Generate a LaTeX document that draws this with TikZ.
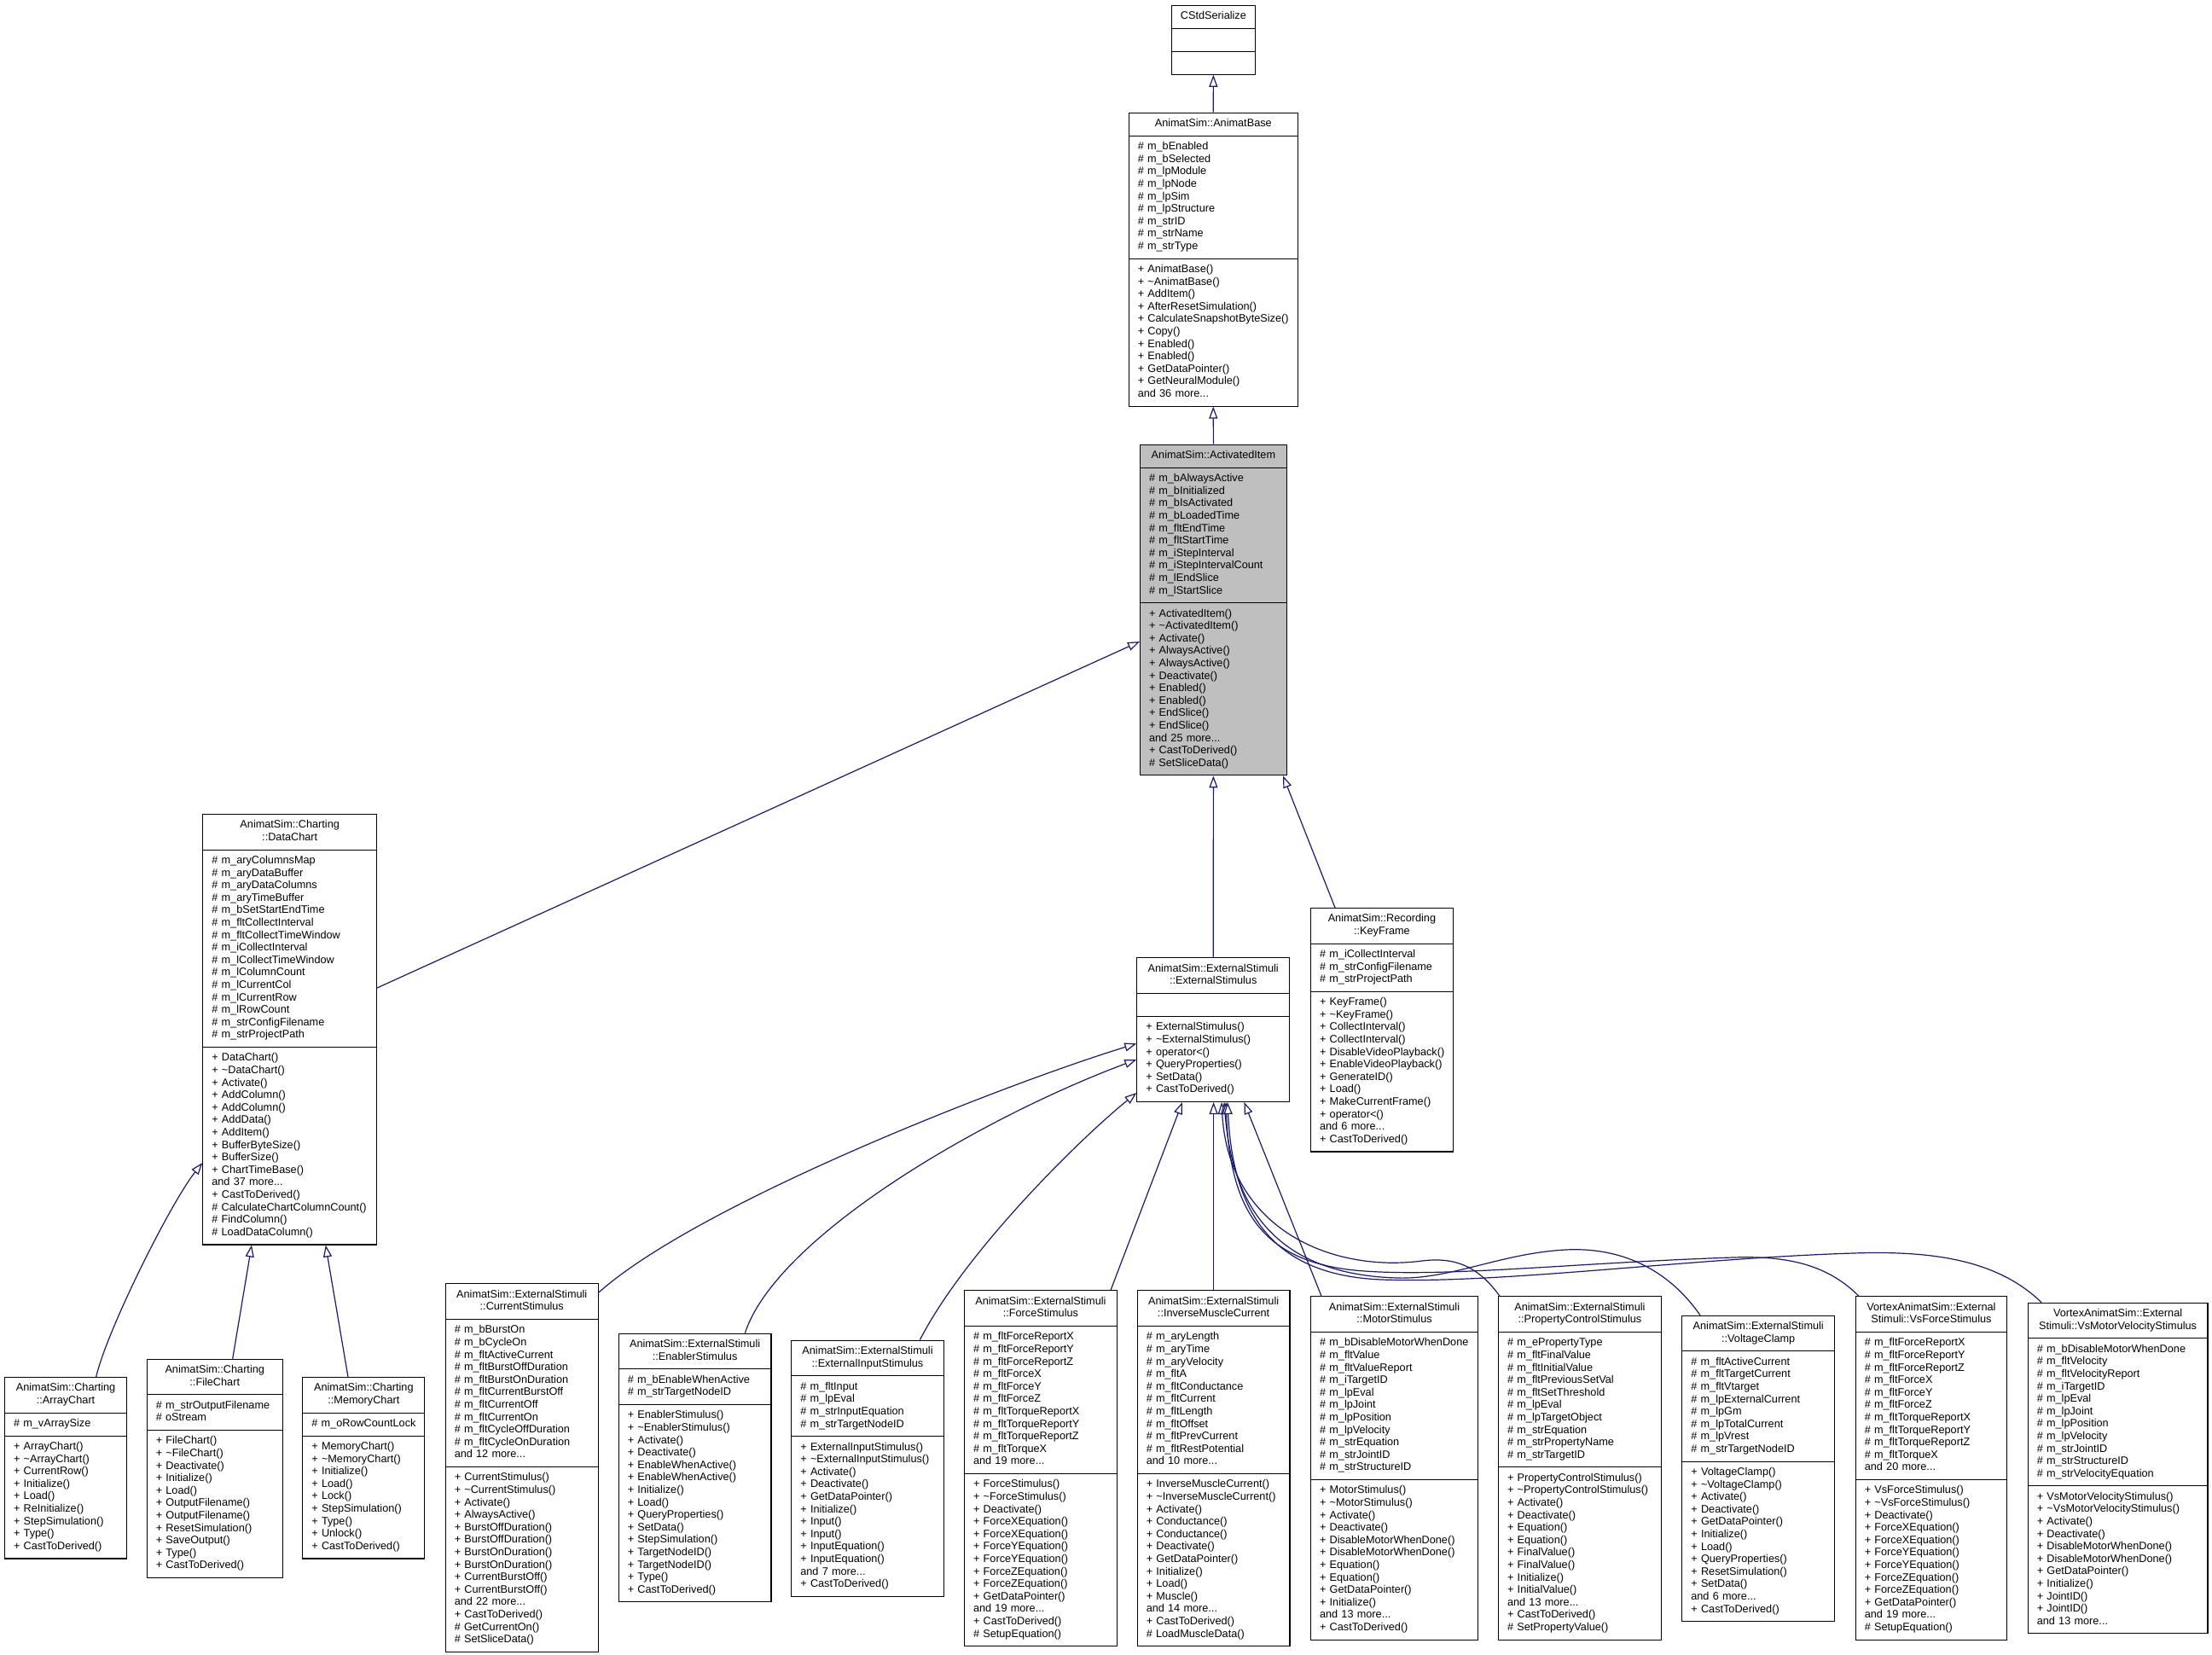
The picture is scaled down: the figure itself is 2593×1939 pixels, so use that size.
\documentclass[tikz,border=0pt]{standalone}
\usepackage{fontspec}
\setmainfont{Liberation Sans}
\usetikzlibrary{shapes.multipart,arrows.meta}
\definecolor{edgeblue}{HTML}{191970}
\definecolor{aigray}{HTML}{BFBFBF}
\setlength\parindent{0pt}
\hyphenpenalty=10000 \exhyphenpenalty=10000
\newcommand\tld{\textasciitilde}
\newcommand\ctitle[1]{\centering\strut #1\strut\par}
\tikzset{
  cls/.style={draw=black, line width=1.1pt, fill=white, rectangle split, rectangle split parts=3,
    anchor=north west, inner xsep=10.5pt, inner ysep=5.65pt, font=\fontsize{12.7}{14.6}\selectfont},
  inh/.style={draw=edgeblue, line width=1.2pt, -{Triangle[length=14pt,width=10pt,fill=white]}},
}
\begin{document}
\begin{tikzpicture}[x=1pt,y=-1pt]
\fill[white] (0,0) rectangle (2593,1939);
\useasboundingbox (0,0) rectangle (2593,1939);

\node[cls, text width=77.3pt] (cs) at (1372.7,5.7) {\ctitle{CStdSerialize}
\nodepart{two}\strut
\nodepart{three}\strut};

\node[cls, text width=177pt] (ab) at (1322.7,131.7) {\ctitle{AnimatSim::AnimatBase}
\nodepart{two}\strut\#~m\_bEnabled\\\#~m\_bSelected\\\#~m\_lpModule\\\#~m\_lpNode\\\#~m\_lpSim\\\#~m\_lpStructure\\\#~m\_strID\\\#~m\_strName\\\#~m\_strType\strut
\nodepart{three}\strut+~AnimatBase()\\+~\tld AnimatBase()\\+~AddItem()\\+~AfterResetSimulation()\\+~CalculateSnapshotByteSize()\\+~Copy()\\+~Enabled()\\+~Enabled()\\+~GetDataPointer()\\+~GetNeuralModule()\\and~36~more...\strut};

\node[cls, fill=aigray, text width=150.7pt] (ai) at (1336,520.7) {\ctitle{AnimatSim::ActivatedItem}
\nodepart{two}\strut\#~m\_bAlwaysActive\\\#~m\_bInitialized\\\#~m\_bIsActivated\\\#~m\_bLoadedTime\\\#~m\_fltEndTime\\\#~m\_fltStartTime\\\#~m\_iStepInterval\\\#~m\_iStepIntervalCount\\\#~m\_lEndSlice\\\#~m\_lStartSlice\strut
\nodepart{three}\strut+~ActivatedItem()\\+~\tld ActivatedItem()\\+~Activate()\\+~AlwaysActive()\\+~AlwaysActive()\\+~Deactivate()\\+~Enabled()\\+~Enabled()\\+~EndSlice()\\+~EndSlice()\\and~25~more...\\+~CastToDerived()\\\#~SetSliceData()\strut};

\node[cls, text width=182.7pt] (dc) at (237.3,954) {\ctitle{AnimatSim::Charting\\::DataChart}
\nodepart{two}\strut\#~m\_aryColumnsMap\\\#~m\_aryDataBuffer\\\#~m\_aryDataColumns\\\#~m\_aryTimeBuffer\\\#~m\_bSetStartEndTime\\\#~m\_fltCollectInterval\\\#~m\_fltCollectTimeWindow\\\#~m\_iCollectInterval\\\#~m\_lCollectTimeWindow\\\#~m\_lColumnCount\\\#~m\_lCurrentCol\\\#~m\_lCurrentRow\\\#~m\_lRowCount\\\#~m\_strConfigFilename\\\#~m\_strProjectPath\strut
\nodepart{three}\strut+~DataChart()\\+~\tld DataChart()\\+~Activate()\\+~AddColumn()\\+~AddColumn()\\+~AddData()\\+~AddItem()\\+~BufferByteSize()\\+~BufferSize()\\+~ChartTimeBase()\\and~37~more...\\+~CastToDerived()\\\#~CalculateChartColumnCount()\\\#~FindColumn()\\\#~LoadDataColumn()\strut};

\node[cls, text width=157.7pt] (es) at (1332.3,1122.3) {\ctitle{AnimatSim::ExternalStimuli\\::ExternalStimulus}
\nodepart{two}\strut
\nodepart{three}\strut+~ExternalStimulus()\\+~\tld ExternalStimulus()\\+~operator<()\\+~QueryProperties()\\+~SetData()\\+~CastToDerived()\strut};

\node[cls, text width=145.7pt] (kf) at (1536,1064) {\ctitle{AnimatSim::Recording\\::KeyFrame}
\nodepart{two}\strut\#~m\_iCollectInterval\\\#~m\_strConfigFilename\\\#~m\_strProjectPath\strut
\nodepart{three}\strut+~KeyFrame()\\+~\tld KeyFrame()\\+~CollectInterval()\\+~CollectInterval()\\+~DisableVideoPlayback()\\+~EnableVideoPlayback()\\+~GenerateID()\\+~Load()\\+~MakeCurrentFrame()\\+~operator<()\\and~6~more...\\+~CastToDerived()\strut};

\node[cls, text width=122pt] (ac) at (5,1614) {\ctitle{AnimatSim::Charting\\::ArrayChart}
\nodepart{two}\strut\#~m\_vArraySize\strut
\nodepart{three}\strut+~ArrayChart()\\+~\tld ArrayChart()\\+~CurrentRow()\\+~Initialize()\\+~Load()\\+~ReInitialize()\\+~StepSimulation()\\+~Type()\\+~CastToDerived()\strut};

\node[cls, text width=138pt] (fc) at (171.7,1592.7) {\ctitle{AnimatSim::Charting\\::FileChart}
\nodepart{two}\strut\#~m\_strOutputFilename\\\#~oStream\strut
\nodepart{three}\strut+~FileChart()\\+~\tld FileChart()\\+~Deactivate()\\+~Initialize()\\+~Load()\\+~OutputFilename()\\+~OutputFilename()\\+~ResetSimulation()\\+~SaveOutput()\\+~Type()\\+~CastToDerived()\strut};

\node[cls, text width=122pt] (mc) at (354.3,1614) {\ctitle{AnimatSim::Charting\\::MemoryChart}
\nodepart{two}\strut\#~m\_oRowCountLock\strut
\nodepart{three}\strut+~MemoryChart()\\+~\tld MemoryChart()\\+~Initialize()\\+~Load()\\+~Lock()\\+~StepSimulation()\\+~Type()\\+~Unlock()\\+~CastToDerived()\strut};

\node[cls, text width=158pt] (cur) at (521.7,1504.3) {\ctitle{AnimatSim::ExternalStimuli\\::CurrentStimulus}
\nodepart{two}\strut\#~m\_bBurstOn\\\#~m\_bCycleOn\\\#~m\_fltActiveCurrent\\\#~m\_fltBurstOffDuration\\\#~m\_fltBurstOnDuration\\\#~m\_fltCurrentBurstOff\\\#~m\_fltCurrentOff\\\#~m\_fltCurrentOn\\\#~m\_fltCycleOffDuration\\\#~m\_fltCycleOnDuration\\and~12~more...\strut
\nodepart{three}\strut+~CurrentStimulus()\\+~\tld CurrentStimulus()\\+~Activate()\\+~AlwaysActive()\\+~BurstOffDuration()\\+~BurstOffDuration()\\+~BurstOnDuration()\\+~BurstOnDuration()\\+~CurrentBurstOff()\\+~CurrentBurstOff()\\and~22~more...\\+~CastToDerived()\\\#~GetCurrentOn()\\\#~SetSliceData()\strut};

\node[cls, text width=157.7pt] (en) at (724.7,1562.7) {\ctitle{AnimatSim::ExternalStimuli\\::EnablerStimulus}
\nodepart{two}\strut\#~m\_bEnableWhenActive\\\#~m\_strTargetNodeID\strut
\nodepart{three}\strut+~EnablerStimulus()\\+~\tld EnablerStimulus()\\+~Activate()\\+~Deactivate()\\+~EnableWhenActive()\\+~EnableWhenActive()\\+~Initialize()\\+~Load()\\+~QueryProperties()\\+~SetData()\\+~StepSimulation()\\+~TargetNodeID()\\+~TargetNodeID()\\+~Type()\\+~CastToDerived()\strut};

\node[cls, text width=157.3pt] (ei) at (927.3,1570.7) {\ctitle{AnimatSim::ExternalStimuli\\::ExternalInputStimulus}
\nodepart{two}\strut\#~m\_fltInput\\\#~m\_lpEval\\\#~m\_strInputEquation\\\#~m\_strTargetNodeID\strut
\nodepart{three}\strut+~ExternalInputStimulus()\\+~\tld ExternalInputStimulus()\\+~Activate()\\+~Deactivate()\\+~GetDataPointer()\\+~Initialize()\\+~Input()\\+~Input()\\+~InputEquation()\\+~InputEquation()\\and~7~more...\\+~CastToDerived()\strut};

\node[cls, text width=157.7pt] (fs) at (1130,1512.3) {\ctitle{AnimatSim::ExternalStimuli\\::ForceStimulus}
\nodepart{two}\strut\#~m\_fltForceReportX\\\#~m\_fltForceReportY\\\#~m\_fltForceReportZ\\\#~m\_fltForceX\\\#~m\_fltForceY\\\#~m\_fltForceZ\\\#~m\_fltTorqueReportX\\\#~m\_fltTorqueReportY\\\#~m\_fltTorqueReportZ\\\#~m\_fltTorqueX\\and~19~more...\strut
\nodepart{three}\strut+~ForceStimulus()\\+~\tld ForceStimulus()\\+~Deactivate()\\+~ForceXEquation()\\+~ForceXEquation()\\+~ForceYEquation()\\+~ForceYEquation()\\+~ForceZEquation()\\+~ForceZEquation()\\+~GetDataPointer()\\and~19~more...\\+~CastToDerived()\\\#~SetupEquation()\strut};

\node[cls, text width=157.7pt] (im) at (1332.7,1512.3) {\ctitle{AnimatSim::ExternalStimuli\\::InverseMuscleCurrent}
\nodepart{two}\strut\#~m\_aryLength\\\#~m\_aryTime\\\#~m\_aryVelocity\\\#~m\_fltA\\\#~m\_fltConductance\\\#~m\_fltCurrent\\\#~m\_fltLength\\\#~m\_fltOffset\\\#~m\_fltPrevCurrent\\\#~m\_fltRestPotential\\and~10~more...\strut
\nodepart{three}\strut+~InverseMuscleCurrent()\\+~\tld InverseMuscleCurrent()\\+~Activate()\\+~Conductance()\\+~Conductance()\\+~Deactivate()\\+~GetDataPointer()\\+~Initialize()\\+~Load()\\+~Muscle()\\and~14~more...\\+~CastToDerived()\\\#~LoadMuscleData()\strut};

\node[cls, text width=175pt] (ms) at (1536,1519.3) {\ctitle{AnimatSim::ExternalStimuli\\::MotorStimulus}
\nodepart{two}\strut\#~m\_bDisableMotorWhenDone\\\#~m\_fltValue\\\#~m\_fltValueReport\\\#~m\_iTargetID\\\#~m\_lpEval\\\#~m\_lpJoint\\\#~m\_lpPosition\\\#~m\_lpVelocity\\\#~m\_strEquation\\\#~m\_strJointID\\\#~m\_strStructureID\strut
\nodepart{three}\strut+~MotorStimulus()\\+~\tld MotorStimulus()\\+~Activate()\\+~Deactivate()\\+~DisableMotorWhenDone()\\+~DisableMotorWhenDone()\\+~Equation()\\+~Equation()\\+~GetDataPointer()\\+~Initialize()\\and~13~more...\\+~CastToDerived()\strut};

\node[cls, text width=169.7pt] (pcs) at (1756,1519.3) {\ctitle{AnimatSim::ExternalStimuli\\::PropertyControlStimulus}
\nodepart{two}\strut\#~m\_ePropertyType\\\#~m\_fltFinalValue\\\#~m\_fltInitialValue\\\#~m\_fltPreviousSetVal\\\#~m\_fltSetThreshold\\\#~m\_lpEval\\\#~m\_lpTargetObject\\\#~m\_strEquation\\\#~m\_strPropertyName\\\#~m\_strTargetID\strut
\nodepart{three}\strut+~PropertyControlStimulus()\\+~\tld PropertyControlStimulus()\\+~Activate()\\+~Deactivate()\\+~Equation()\\+~Equation()\\+~FinalValue()\\+~FinalValue()\\+~Initialize()\\+~InitialValue()\\and~13~more...\\+~CastToDerived()\\\#~SetPropertyValue()\strut};

\node[cls, text width=157.7pt] (vc) at (1971.3,1541.7) {\ctitle{AnimatSim::ExternalStimuli\\::VoltageClamp}
\nodepart{two}\strut\#~m\_fltActiveCurrent\\\#~m\_fltTargetCurrent\\\#~m\_fltVtarget\\\#~m\_lpExternalCurrent\\\#~m\_lpGm\\\#~m\_lpTotalCurrent\\\#~m\_lpVrest\\\#~m\_strTargetNodeID\strut
\nodepart{three}\strut+~VoltageClamp()\\+~\tld VoltageClamp()\\+~Activate()\\+~Deactivate()\\+~GetDataPointer()\\+~Initialize()\\+~Load()\\+~QueryProperties()\\+~ResetSimulation()\\+~SetData()\\and~6~more...\\+~CastToDerived()\strut};

\node[cls, text width=156.3pt] (vsf) at (2174.7,1519.3) {\ctitle{VortexAnimatSim::External\\Stimuli::VsForceStimulus}
\nodepart{two}\strut\#~m\_fltForceReportX\\\#~m\_fltForceReportY\\\#~m\_fltForceReportZ\\\#~m\_fltForceX\\\#~m\_fltForceY\\\#~m\_fltForceZ\\\#~m\_fltTorqueReportX\\\#~m\_fltTorqueReportY\\\#~m\_fltTorqueReportZ\\\#~m\_fltTorqueX\\and~20~more...\strut
\nodepart{three}\strut+~VsForceStimulus()\\+~\tld VsForceStimulus()\\+~Deactivate()\\+~ForceXEquation()\\+~ForceXEquation()\\+~ForceYEquation()\\+~ForceYEquation()\\+~ForceZEquation()\\+~ForceZEquation()\\+~GetDataPointer()\\and~19~more...\\\#~SetupEquation()\strut};

\node[cls, text width=189.7pt] (vsm) at (2376.7,1526.7) {\ctitle{VortexAnimatSim::External\\Stimuli::VsMotorVelocityStimulus}
\nodepart{two}\strut\#~m\_bDisableMotorWhenDone\\\#~m\_fltVelocity\\\#~m\_fltVelocityReport\\\#~m\_iTargetID\\\#~m\_lpEval\\\#~m\_lpJoint\\\#~m\_lpPosition\\\#~m\_lpVelocity\\\#~m\_strJointID\\\#~m\_strStructureID\\\#~m\_strVelocityEquation\strut
\nodepart{three}\strut+~VsMotorVelocityStimulus()\\+~\tld VsMotorVelocityStimulus()\\+~Activate()\\+~Deactivate()\\+~DisableMotorWhenDone()\\+~DisableMotorWhenDone()\\+~GetDataPointer()\\+~Initialize()\\+~JointID()\\+~JointID()\\and~13~more...\strut};

% inheritance connectors
\draw[inh] (ab.north) -- (cs.south);
\draw[inh] (ai.north) -- (ab.south);
\draw[inh] (dc.east |- 0,1158) -- (ai.west |- 0,752);
\draw[inh] (es.north) -- (ai.south);
\draw[inh] (kf.north -| 1565,0) -- (ai.south -| 1504,0);
\draw[inh] (ac.north -| 112.7,0) .. controls (125,1560) and (200,1410) .. (dc.west |- 0,1363);
\draw[inh] (fc.north -| 272.7,0) -- (dc.south -| 295,0);
\draw[inh] (mc.north -| 408,0) -- (dc.south -| 381.7,0);
\draw[inh] (cur.east |- 0,1515) .. controls (820,1410) and (1180,1270) .. (es.west |- 0,1223.3);
\draw[inh] (en.north -| 873.3,0) .. controls (910,1450) and (1150,1310) .. (es.west |- 0,1242);
\draw[inh] (ei.north -| 1078.3,0) .. controls (1130,1470) and (1260,1340) .. (es.west |- 0,1281);
\draw[inh] (fs.north -| 1302,0) -- (es.south -| 1386,0);
\draw[inh] (im.north) -- (im.north |- es.south);
\draw[inh] (ms.north -| 1549,0) -- (es.south -| 1458.4,0);
\draw[inh] (pcs.north -| 1758,0) .. controls (1730,1480) and (1700,1474) .. (1667,1478)
  .. controls (1560,1492) and (1440,1440) .. (es.south -| 1432,0);
\draw[inh] (vc.north -| 1993,0) .. controls (1950,1480) and (1890,1462) .. (1835,1465)
  .. controls (1760,1469) and (1700,1500) .. (1638,1498)
  .. controls (1500,1494) and (1445,1420) .. (es.south -| 1435,0);
\draw[inh] (vsf.north -| 2179,0) .. controls (2140,1480) and (2090,1472) .. (2031,1474)
  .. controls (1850,1480) and (1700,1497) .. (1600,1490)
  .. controls (1480,1482) and (1442,1420) .. (es.south -| 1437,0);
\draw[inh] (vsm.north -| 2393,0) .. controls (2340,1475) and (2260,1466) .. (2172,1469)
  .. controls (1980,1475) and (1760,1505) .. (1620,1500)
  .. controls (1490,1495) and (1445,1420) .. (es.south -| 1439,0);
\end{tikzpicture}
\end{document}
